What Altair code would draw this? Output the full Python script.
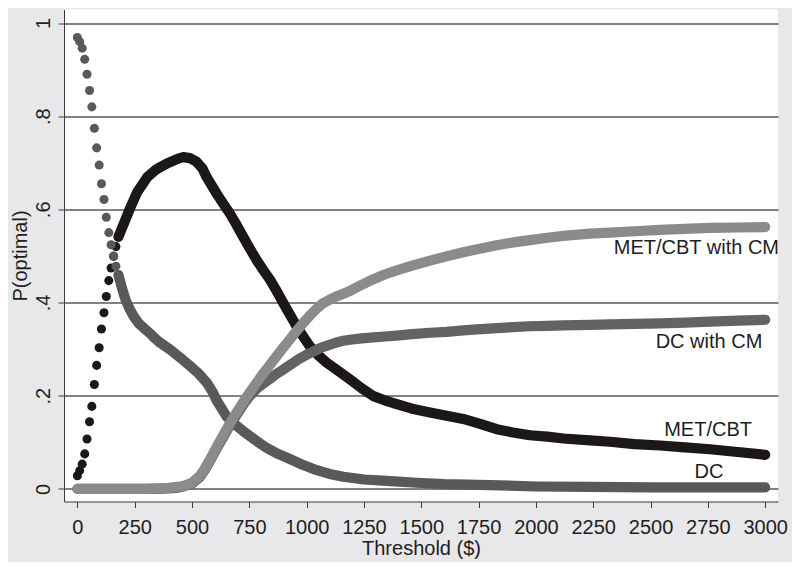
import altair as alt
import pandas as pd

# ---------------- data ----------------
# MET/CBT (black): separate dots at the start, then a continuous band
MET_DOT_X = [0, 10, 21, 32, 42, 53, 63, 74, 84, 95, 105, 116, 126, 137, 147, 158, 168, 179]
MET_DOT_Y = [0.028, 0.039, 0.053, 0.075, 0.107, 0.144, 0.177, 0.224, 0.265, 0.303,
             0.343, 0.378, 0.413, 0.447, 0.474, 0.499, 0.520, 0.541]
MET_X = [179, 203, 232, 261, 305, 340, 363, 389, 407, 440, 462, 490, 520, 545, 564, 585, 607,
         635, 665, 695, 723, 752, 782, 810, 840, 870, 898, 927, 956, 985, 1014, 1050, 1087,
         1130, 1189, 1240, 1291, 1340, 1393, 1460, 1538, 1610, 1683, 1760, 1829, 1900, 1974,
         2050, 2120, 2236, 2323, 2430, 2541, 2650, 2759, 2880, 3000]
MET_Y = [0.541, 0.570, 0.605, 0.637, 0.669, 0.684, 0.691, 0.698, 0.702, 0.709, 0.712, 0.710,
         0.702, 0.688, 0.669, 0.652, 0.634, 0.613, 0.591, 0.566, 0.541, 0.516, 0.491, 0.470,
         0.449, 0.424, 0.399, 0.374, 0.349, 0.327, 0.306, 0.287, 0.271, 0.256, 0.235, 0.216,
         0.199, 0.190, 0.182, 0.172, 0.164, 0.157, 0.150, 0.139, 0.128, 0.121, 0.115, 0.112,
         0.108, 0.104, 0.101, 0.096, 0.093, 0.089, 0.085, 0.079, 0.073]

# DC (dark gray)
DC_DOT_X = [0, 10, 21, 32, 42, 53, 63, 74, 84, 95, 105, 116, 126, 137, 147, 158, 168, 179]
DC_DOT_Y = [0.969, 0.960, 0.946, 0.922, 0.890, 0.855, 0.820, 0.774, 0.732, 0.695, 0.655,
            0.621, 0.583, 0.550, 0.524, 0.500, 0.478, 0.459]
DC_X = [179, 195, 210, 228, 246, 268, 290, 316, 334, 360, 404, 450, 491, 530, 564, 590, 607,
        630, 651, 690, 723, 775, 825, 875, 927, 985, 1044, 1100, 1160, 1250, 1350, 1480, 1600,
        1800, 2000, 2236, 2500, 2750, 3000]
DC_Y = [0.459, 0.430, 0.406, 0.386, 0.370, 0.355, 0.345, 0.334, 0.325, 0.314, 0.299, 0.281,
        0.264, 0.247, 0.228, 0.208, 0.190, 0.172, 0.155, 0.137, 0.124, 0.105, 0.088, 0.075,
        0.064, 0.051, 0.040, 0.032, 0.026, 0.020, 0.017, 0.013, 0.010, 0.008, 0.005, 0.004,
        0.003, 0.003, 0.003]

# MET/CBT with CM (light gray)
MCM_X = [0, 100, 200, 300, 350, 400, 430, 462, 500, 534, 555, 578, 600, 622, 644, 665, 687,
         709, 731, 753, 782, 811, 840, 869, 898, 927, 956, 985, 1014, 1044, 1070, 1100, 1130,
         1160, 1189, 1240, 1291, 1340, 1393, 1460, 1538, 1610, 1683, 1760, 1829, 1900, 1974,
         2050, 2120, 2236, 2323, 2430, 2541, 2650, 2759, 2880, 3000]
MCM_Y = [0.0, 0.0, 0.0, 0.0, 0.001, 0.002, 0.004, 0.006, 0.013, 0.028, 0.043, 0.063, 0.083,
         0.103, 0.122, 0.140, 0.158, 0.175, 0.192, 0.208, 0.228, 0.248, 0.266, 0.285, 0.303,
         0.321, 0.339, 0.356, 0.372, 0.387, 0.398, 0.406, 0.413, 0.419, 0.425, 0.438, 0.450,
         0.460, 0.469, 0.479, 0.490, 0.499, 0.508, 0.516, 0.523, 0.529, 0.534, 0.539, 0.543,
         0.548, 0.550, 0.553, 0.556, 0.558, 0.560, 0.561, 0.562]

# DC with CM (mid gray)
DCM_X = [0, 100, 200, 300, 350, 400, 430, 462, 500, 534, 555, 578, 600, 622, 644, 665, 687,
         709, 731, 753, 782, 811, 840, 869, 898, 934, 970, 1000, 1022, 1050, 1080, 1123, 1160,
         1189, 1240, 1291, 1340, 1393, 1460, 1538, 1610, 1683, 1760, 1829, 1900, 1974, 2050,
         2120, 2236, 2323, 2430, 2541, 2650, 2759, 2880, 3000]
DCM_Y = [0, 0, 0, 0, 0, 0.001, 0.002, 0.005, 0.011, 0.025, 0.040, 0.060, 0.080, 0.099, 0.118,
         0.136, 0.153, 0.170, 0.186, 0.200, 0.215, 0.226, 0.236, 0.247, 0.256, 0.268, 0.280,
         0.288, 0.293, 0.300, 0.306, 0.313, 0.318, 0.320, 0.323, 0.325, 0.327, 0.329, 0.332,
         0.335, 0.337, 0.340, 0.343, 0.345, 0.347, 0.349, 0.350, 0.351, 0.352, 0.353, 0.354,
         0.355, 0.357, 0.359, 0.361, 0.363]

LABELS = ["MET/CBT with CM", "DC with CM", "MET/CBT", "DC"]
LABEL_X = [2700, 2755, 2751, 2755]
LABEL_Y = [0.517, 0.316, 0.127, 0.037]

X_TICKS = list(range(0, 3001, 250))
Y_TICKS = [0, 0.2, 0.4, 0.6, 0.8, 1]
Y_TICK_TEXT = ["0", ".2", ".4", ".6", ".8", "1"]

# ---------------- build table ----------------
rows = []
def add(series, part, xs, ys):
    for a, b in zip(xs, ys):
        rows.append({"series": series, "part": part, "x": a, "y": b})

add("MET/CBT", "dot", MET_DOT_X, MET_DOT_Y)
add("MET/CBT", "line", MET_X, MET_Y)
add("DC", "dot", DC_DOT_X, DC_DOT_Y)
add("DC", "line", DC_X, DC_Y)
add("DC with CM", "line", DCM_X, DCM_Y)
add("MET/CBT with CM", "line", MCM_X, MCM_Y)
df = pd.DataFrame(rows)
df["order"] = range(len(df))

lab = pd.DataFrame({"label": LABELS, "x": LABEL_X, "y": LABEL_Y})

FONT = "Liberation Sans"

label_map = "{" + ", ".join(f"'{i}': '{t}'" for i, t in enumerate(Y_TICK_TEXT)) + "}"
y_label_expr = f"{label_map}[toString(round(datum.value * 5))]"

X = alt.X("x:Q",
          scale=alt.Scale(domain=[-58.4, 3056], nice=False, zero=False),
          axis=alt.Axis(values=X_TICKS, format="d", title="Threshold ($)", grid=False,
                        labelFlush=False, labelPadding=10, titlePadding=1, tickSize=6))
Y = alt.Y("y:Q",
          scale=alt.Scale(domain=[-0.0272, 1.029], nice=False, zero=False),
          axis=alt.Axis(values=Y_TICKS, title="P(optimal)", grid=True,
                        labelAngle=270, labelAlign="center", labelBaseline="bottom",
                        labelPadding=5, titlePadding=3, tickSize=6,
                        labelExpr=y_label_expr))

base = alt.Chart(df)
SIZE = 82
WIDTH = 10.2

layers = []
for name, color in [("MET/CBT", "#1c1819"), ("DC", "#595959"),
                    ("DC with CM", "#636363"), ("MET/CBT with CM", "#8b8b8b")]:
    line = base.transform_filter(
        (alt.datum.series == name) & (alt.datum.part == "line")
    ).mark_line(strokeWidth=WIDTH, strokeCap="round", strokeJoin="round", color=color).encode(
        x=X, y=Y, order="order:Q")
    pts = base.transform_filter(alt.datum.series == name).mark_circle(
        size=SIZE, opacity=1, color=color).encode(x=X, y=Y)
    layers += [line, pts]

text = alt.Chart(lab).mark_text(font=FONT, fontSize=20, color="#1e1e1e",
                                align="center", baseline="middle").encode(
    x=X, y=Y, text="label:N")
layers.append(text)

chart = alt.layer(*layers).properties(
    width=714, height=492,
    autosize=alt.AutoSizeParams(type="none"),
    padding={"left": 56, "top": 1.5, "right": 14, "bottom": 60},
    background="#e8e8ea",
).configure_view(stroke=None, fill="white").configure_axis(
    domainColor="#3c3c3c", domainWidth=1, tickColor="#3c3c3c", tickWidth=1,
    gridColor="#585858", gridWidth=1.5,
    labelFont=FONT, labelFontSize=20, labelColor="#1e1e1e",
    titleFont=FONT, titleFontSize=20, titleColor="#1e1e1e", titleFontWeight="normal",
)

chart.save("out.html", embed_options={"renderer": "svg", "actions": False})
